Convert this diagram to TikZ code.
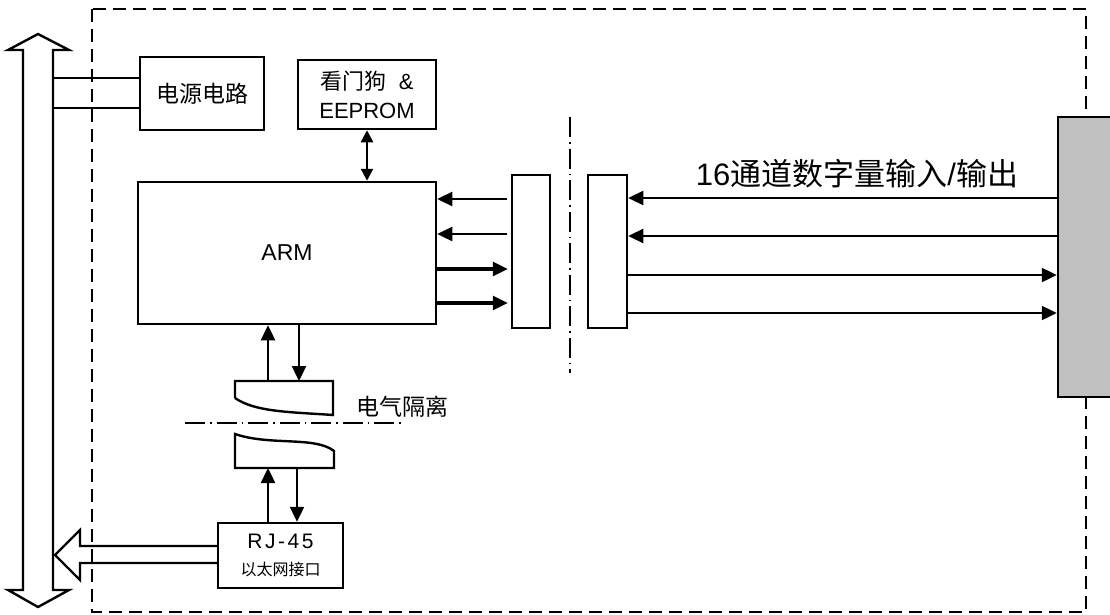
\documentclass[tikz,border=0pt]{standalone}
\usepackage{fontspec}
\setmainfont{Liberation Sans}
\newfontfamily\cjk{Noto Sans CJK SC}
\usetikzlibrary{arrows.meta}
\definecolor{iogray}{RGB}{192,192,192}
\tikzset{
  box/.style={draw,line width=2.5pt,inner sep=0pt,align=center},
  arr/.style={line width=2.4pt,-{Triangle[length=15pt,width=14pt]}},
  darr/.style={line width=2.4pt,{Triangle[length=12pt,width=12pt]}-{Triangle[length=12pt,width=12pt]}},
  frame/.style={line width=2.2pt,dash pattern=on 13pt off 7pt},
  dashdot/.style={line width=2pt,dash pattern=on 20pt off 5pt on 1.5pt off 5pt},
  wire/.style={line width=2.4pt,line join=miter},
}
\newcommand{\fs}[1]{\fontsize{#1}{#1}\selectfont}

\begin{document}
\begin{tikzpicture}[x=1pt,y=-1pt]
  \useasboundingbox (0,0) rectangle (1110,615);
  % dashed module frame
  \draw[frame] (92,9) rectangle (1086,612);
  % boxes
  \node[box,minimum width=124pt,minimum height=73pt,font=\fs{23}] (pwr) at (202,93.5) {\cjk 电源电路};
  \node[box,minimum width=138pt,minimum height=69pt,font=\fontsize{22}{29}\selectfont] (wdg) at (367,94.5) {{\cjk 看门狗}\ \ \&\\EEPROM};
  \node[box,minimum width=298pt,minimum height=142pt,font=\fs{23}] (arm) at (287,253) {ARM};
  \node[box,minimum width=38pt,minimum height=153pt] (ifl) at (531,251.5) {};
  \node[box,minimum width=39pt,minimum height=153pt] (ifr) at (607.5,251.5) {};
  \node[box,fill=iogray,minimum width=60pt,minimum height=280pt] (dio) at (1088,257) {};
  \node[box,minimum width=125pt,minimum height=65pt,font=\fontsize{21}{27}\selectfont] (rj) at (280.5,555.5)
    {{\addfontfeature{LetterSpace=12}RJ-45}\\{\cjk\fontsize{16}{16}\selectfont 以太网接口}};
  % texts
  \node[font=\fs{31}] (ttl) at (857,174) {16{\cjk 通道数字量输入}/{\cjk 输出}};
  \node[font=\fs{23}] (iso) at (402,407) {\cjk 电气隔离};
  % isolation lines
  \draw[dashdot] (570,117) -- (570,373);
  \draw[dashdot] (185,423) -- (403,423);
  % system bus
  \draw[wire] (38,34) -- (69,50) -- (53,50) -- (53,590) -- (69,590)
    -- (38,607) -- (8,590) -- (23,590) -- (23,50) -- (8,50) -- cycle;
  \coordinate (bus1) at (53,78);
  \coordinate (bus2) at (53,108);
  \draw[wire] (bus1) -- (pwr.west |- bus1);
  \draw[wire] (bus2) -- (pwr.west |- bus2);
  % RJ-45 to bus
  \draw[wire] (rj.west |- 0,546) -- (80,546) -- (80,530) -- (55,555)
    -- (80,580) -- (80,563) -- (rj.west |- 0,563);
  % watchdog
  \draw[darr] (wdg.south) -- (wdg.south |- arm.north);
  % ARM <-> interface
  \foreach \y in {199,234}
    \draw[arr] ([xshift=-4pt]ifl.west |- 0,\y) -- (arm.east |- 0,\y);
  \foreach \y in {269,303}
    \draw[arr,line width=3.2pt] (arm.east |- 0,\y) -- ([xshift=-3pt]ifl.west |- 0,\y);
  % interface <-> I/O
  \foreach \y in {198,236}
    \draw[arr] (dio.west |- 0,\y) -- (ifr.east |- 0,\y);
  \foreach \y in {275,313}
    \draw[arr] (ifr.east |- 0,\y) -- (dio.west |- 0,\y);
  % isolators
  \draw[wire] (235,398) -- (235,381) -- (333,381) -- (333,415)
    .. controls (290,412) and (255,412) .. (235,398);
  \draw[wire] (235,434) .. controls (270,446) and (315,436) .. (334,451)
    -- (334,468) -- (235,468) -- cycle;
  \coordinate (u1) at (268,381);
  \coordinate (u2) at (299,381);
  \coordinate (l1) at (268,468);
  \coordinate (l2) at (297,468);
  \draw[arr] (u1) -- (u1 |- arm.south);
  \draw[arr] (u2 |- arm.south) -- (u2);
  \draw[arr] (l1 |- rj.north) -- (l1);
  \draw[arr] (l2) -- (l2 |- rj.north);
\end{tikzpicture}
\end{document}
